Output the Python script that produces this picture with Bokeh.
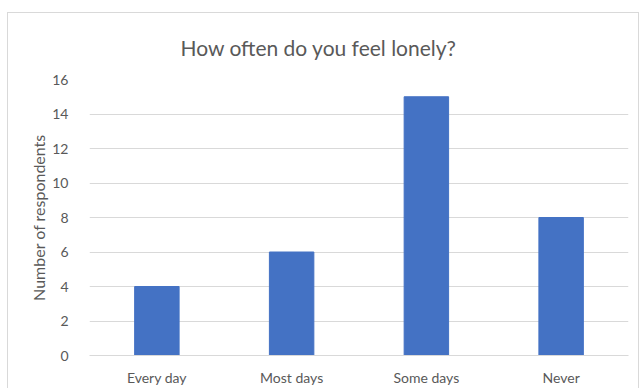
from bokeh.plotting import figure
from bokeh.models import ColumnDataSource, FactorRange, Range1d, FixedTicker
from bokeh.embed import file_html
from bokeh.resources import INLINE

categories = ["Every day", "Most days", "Some days", "Never"]
respondents = [4, 6, 15, 8]
y_ticks = [0, 2, 4, 6, 8, 10, 12, 14, 16]

FONT = "Lato"
GREY = "#595959"

source = ColumnDataSource(data=dict(cat=categories, val=respondents))

p = figure(
    x_range=FactorRange(*categories, range_padding=0),
    y_range=Range1d(0, 16),
    width=632, height=376,
    output_backend="svg", toolbar_location=None,
    min_border_left=81, min_border_right=12,
    min_border_top=66, min_border_bottom=34,
    title="How often do you feel lonely?",
)
p.margin = (12, 0, 0, 7)
p.styles = {"border-top": "1px solid #d9d9d9", "border-left": "1px solid #d9d9d9",
            "border-right": "1px solid #d9d9d9"}

p.vbar(x="cat", top="val", width=0.33, source=source, color="#4472C4")

p.title.align = "left"
p.title.vertical_align = "top"
p.title.text_font = FONT
p.title.text_font_size = "21px"
p.title.text_font_style = "normal"
p.title.text_color = GREY
p.title.standoff = 36
p.title.offset = 91

p.outline_line_color = None
p.x_range.range_padding = 0

p.yaxis.ticker = FixedTicker(ticks=y_ticks)
p.yaxis.axis_label = "Number of respondents"
p.yaxis.axis_label_text_font = FONT
p.yaxis.axis_label_text_font_size = "16px"
p.yaxis.axis_label_text_font_style = "normal"
p.yaxis.axis_label_text_color = GREY
p.yaxis.axis_label_standoff = 1
p.yaxis.axis_line_color = None
p.yaxis.major_tick_line_color = None
p.yaxis.minor_tick_line_color = None
p.yaxis.major_label_standoff = 15

p.xaxis.axis_line_color = "#d9d9d9"
p.xaxis.major_tick_line_color = None
p.xaxis.minor_tick_line_color = None
p.xaxis.major_label_standoff = 7

for ax in (p.xaxis, p.yaxis):
    ax.major_label_text_font = FONT
    ax.major_label_text_font_size = "14px"
    ax.major_label_text_color = GREY

p.xgrid.grid_line_color = None
p.ygrid.grid_line_color = "#d9d9d9"
p.ygrid.grid_line_width = 1

open("out.html", "w").write(file_html(p, INLINE))
